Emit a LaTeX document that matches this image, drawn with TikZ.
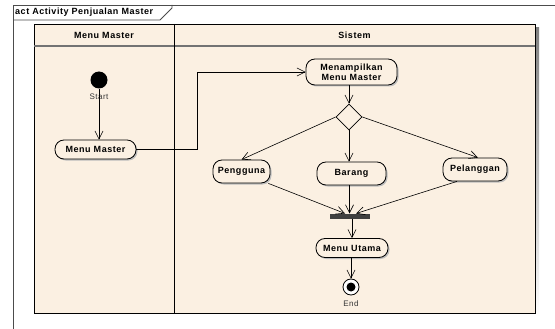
\documentclass[tikz,border=0pt]{standalone}
\usepackage{fontspec}
\setmainfont{Liberation Sans}
\newfontfamily\spaced[LetterSpace=6]{Liberation Sans}
\usetikzlibrary{arrows.meta,shapes.geometric,shadows,calc}
\definecolor{lanefill}{HTML}{FBF0E2}
\definecolor{shade}{HTML}{BDBDBD}
\definecolor{barfill}{HTML}{404040}
\begin{document}
\begin{tikzpicture}[x=1pt,y=-1pt,
  act/.style={draw=black, fill=lanefill, rounded corners=9pt, line width=0.8pt, inner sep=0pt, align=center,
    font=\spaced\fontsize{9}{10}\selectfont\bfseries,
    drop shadow={shadow xshift=1.5pt, shadow yshift=-1.5pt, fill=shade, opacity=1}},
  small/.style={font=\spaced\fontsize{8}{9}\selectfont, inner sep=0pt, text=black!80},
  head/.style={font=\spaced\fontsize{9}{10}\selectfont\bfseries, inner sep=0pt},
  flow/.style={draw=black, line width=0.6pt, -{Straight Barb[length=8pt,width=8pt]}},
  plain/.style={draw=black, line width=0.6pt}]
\useasboundingbox (0,0) rectangle (555,329);
\fill[white] (0,0) rectangle (555,329);
% frame
\draw[line width=0.8pt, black!70] (13,329) -- (13,5) -- (555,5);
\draw[line width=0.8pt, black!70] (13,20) -- (160,20) -- (172,8) -- (172,5);
\node[head, anchor=west] (title) at (15,12.5) {act Activity Penjualan Master};
% lanes
\fill[shade] (38,28) rectangle (539,317);
\draw[fill=lanefill, line width=0.8pt] (34,24) rectangle (174,313);
\draw[fill=lanefill, line width=0.8pt] (174,24) rectangle (535,313);
\draw[line width=1.2pt, black!55] (34,46) -- (535,46);
\draw[line width=0.8pt] (174,24) -- (174,313);
\node[head] (h1) at (104,35.5) {Menu Master};
\node[head] (h2) at (354.5,35.5) {Sistem};
% nodes
\node[circle, fill=black, minimum size=17pt, inner sep=0pt] (start) at (99,80) {};
\node[small] (startlbl) at (99,97) {Start};
\node[act, minimum width=81pt, minimum height=19pt] (mm) at (95.5,149.5) {Menu Master};
\node[act, minimum width=91pt, minimum height=26pt] (mmm) at (351.5,72) {Menampilkan\\Menu Master};
\node[diamond, draw=black, fill=lanefill, line width=0.8pt, minimum width=26pt, minimum height=26pt, inner sep=0pt] (dec) at (349,117) {};
\node[act, minimum width=57pt, minimum height=23pt] (pg) at (241.5,171.5) {Pengguna};
\node[act, minimum width=69pt, minimum height=23pt] (br) at (351.5,173.5) {Barang};
\node[act, minimum width=64pt, minimum height=23pt] (pl) at (475,169.5) {Pelanggan};
\node[rectangle, fill=barfill, minimum width=40pt, minimum height=5pt, inner sep=0pt] (join) at (350,216) {};
\node[act, minimum width=72pt, minimum height=19pt] (mu) at (352,248) {Menu Utama};
\node[circle, draw=black, fill=white, line width=0.8pt, minimum size=16pt, inner sep=0pt] (fin) at (351,287) {};
\node[circle, fill=black, minimum size=9pt, inner sep=0pt] (findot) at (fin.center) {};
\node[small] (finlbl) at (351,304) {End};
% connectors
\coordinate (bend) at (197,72);
\coordinate (jl) at (345,213.5);
\coordinate (jm) at (349.5,213.5);
\coordinate (jr) at (356,213.5);
\draw[flow] (start) -- (start |- mm.north);
\draw[plain] (mm.east) -| (bend);
\draw[flow] (bend) -- (mmm.west);
\draw[flow] (mmm.south -| dec.north) -- (dec.north);
\draw[flow] (dec.west) -- (pg.north);
\draw[flow] (dec.south) -- (dec.south |- br.north);
\draw[flow] (dec.east) -- ($(pl.north)+(3,0)$);
\draw[flow] ($(pg.south east)+(-2,0)$) -- (jl);
\draw[flow] (br.south -| jm) -- (jm);
\draw[flow] ($(pl.south)+(-18,0)$) -- (jr);
\draw[flow] (join.south -| mu.north) -- (mu.north);
\draw[flow] (mu.south -| fin.north) -- (fin.north);
\end{tikzpicture}
\end{document}
